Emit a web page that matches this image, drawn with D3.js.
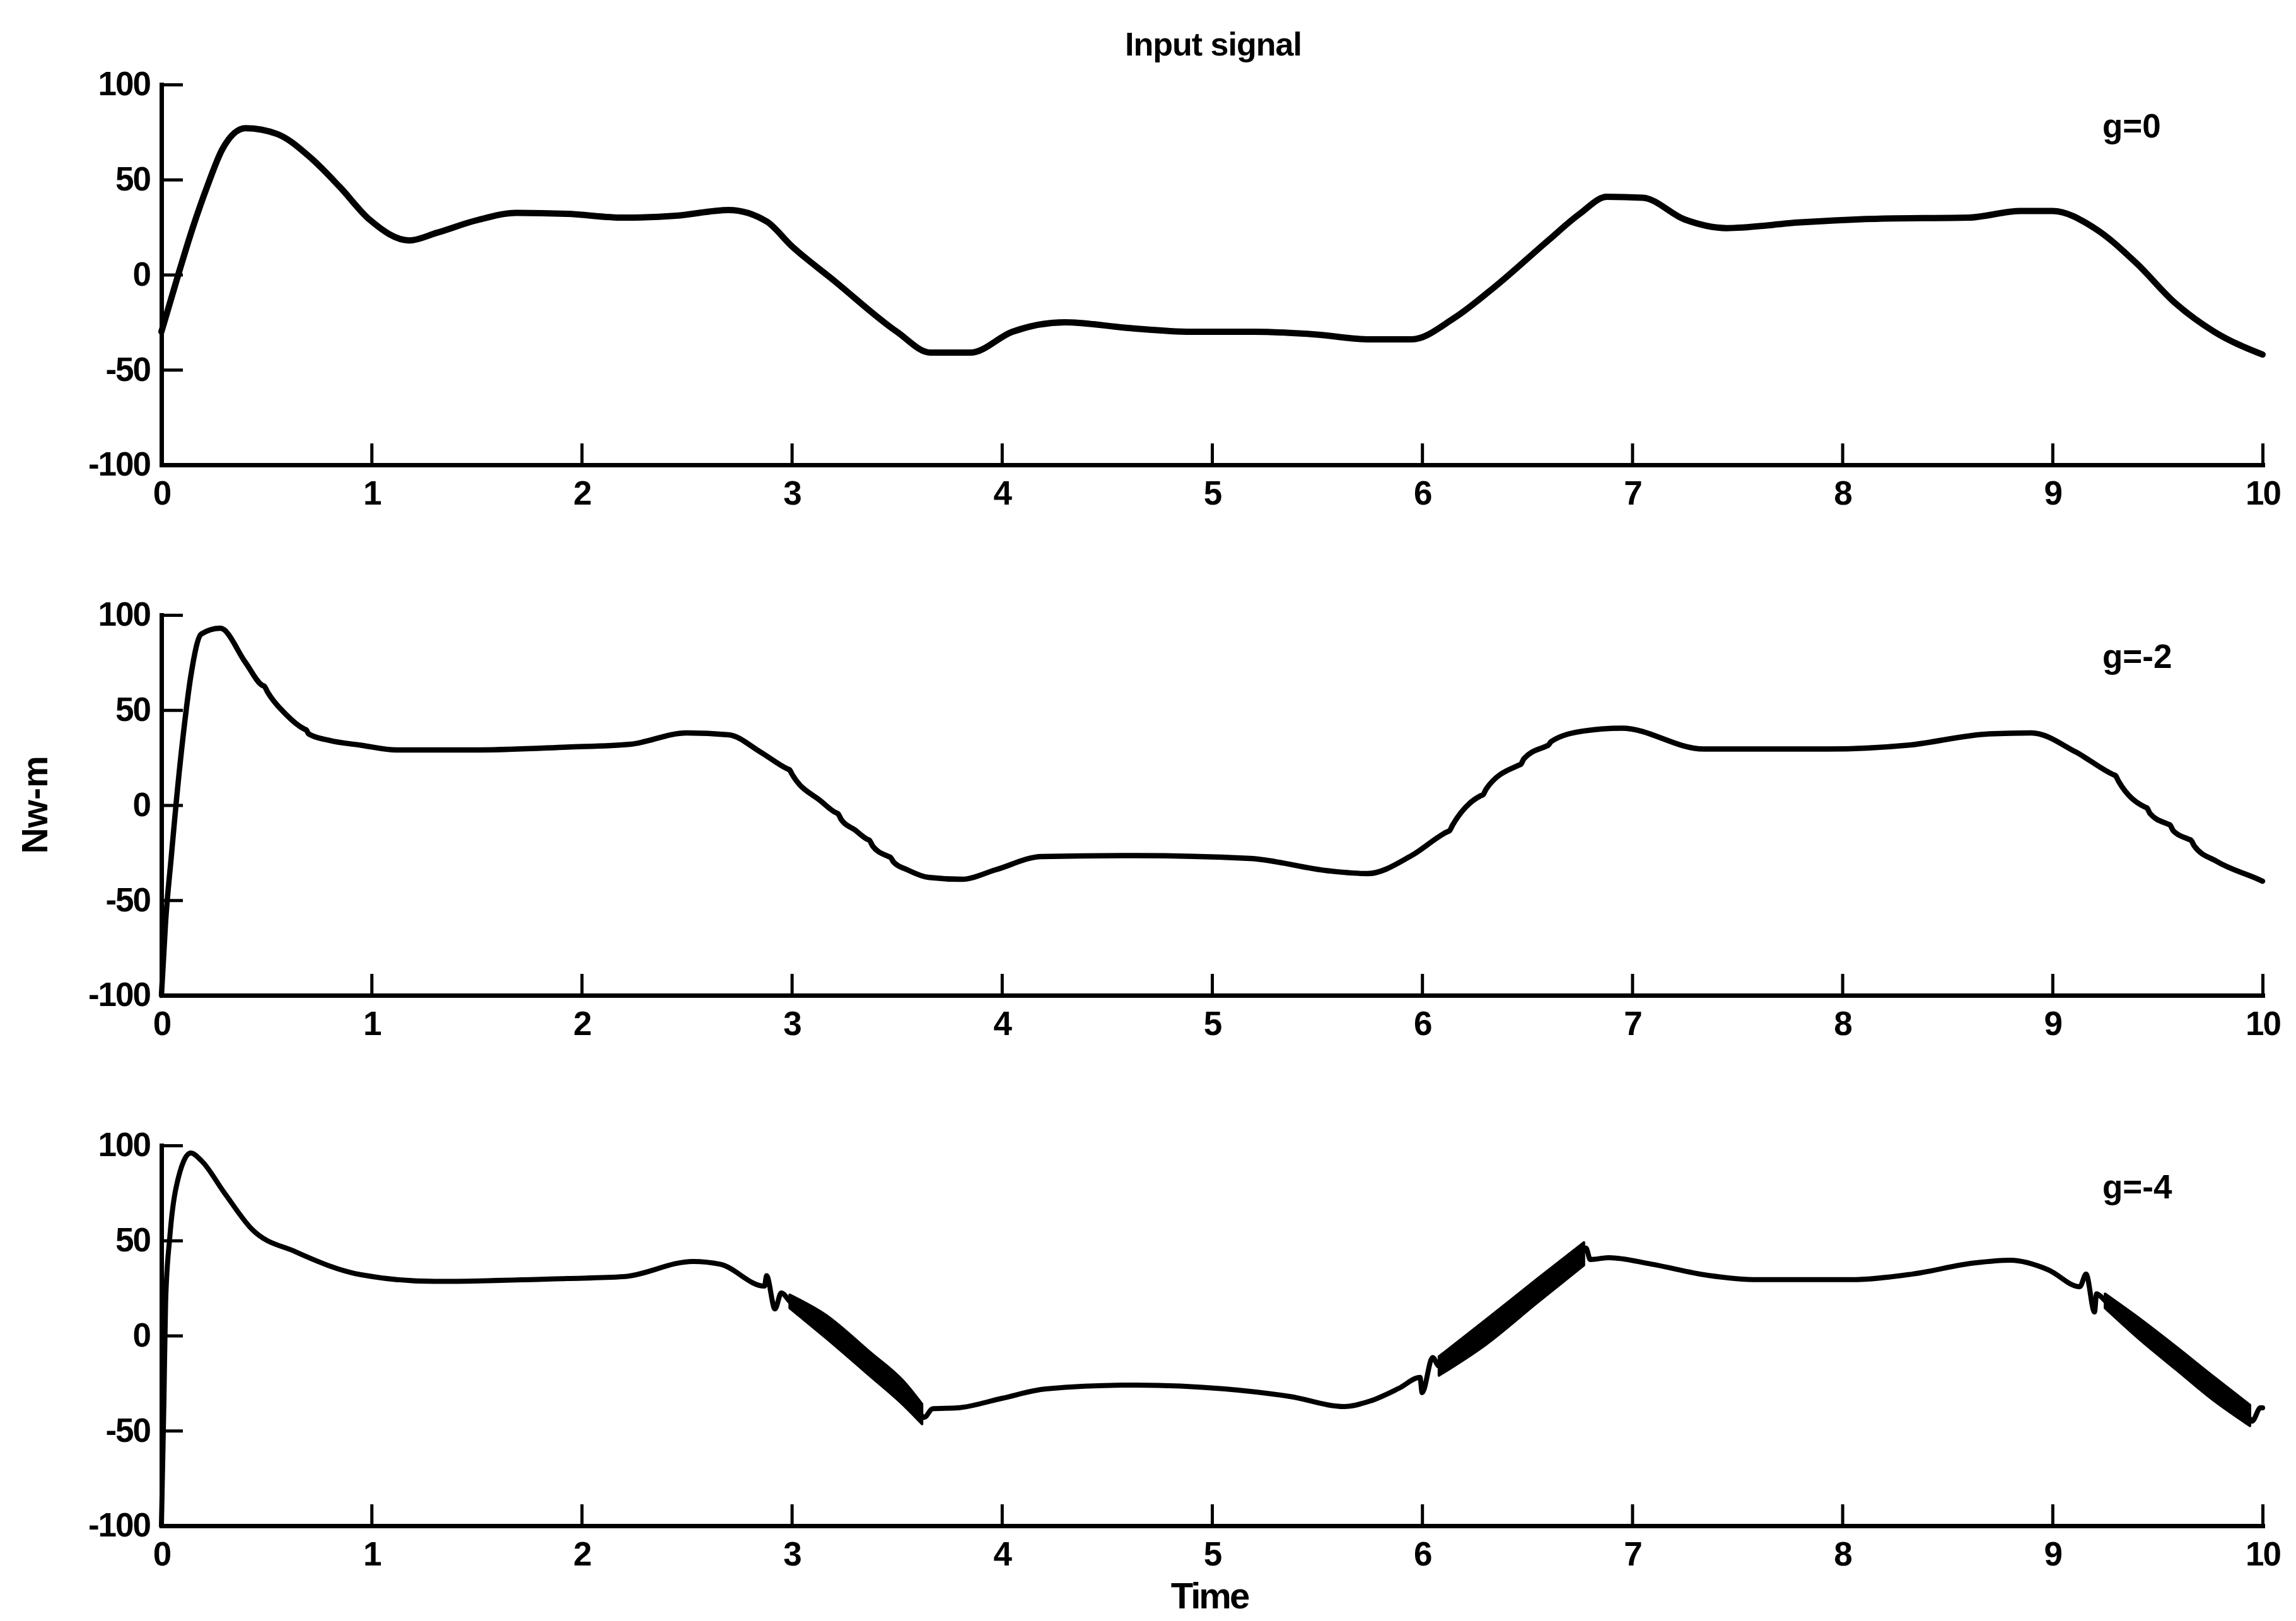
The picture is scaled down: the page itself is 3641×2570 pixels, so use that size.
<!DOCTYPE html>
<html><head><meta charset="utf-8">
<script src="https://cdn.jsdelivr.net/npm/d3@7"></script>
<style>
html,body{margin:0;padding:0;background:#fff;}
text{font-family:"Liberation Sans",Arial,Helvetica,sans-serif;font-weight:bold;fill:#000;}
</style></head><body>
<svg id="chart" width="3641" height="2570"></svg>
<script>
// ---------------- data ----------------
const xTicks = [0,1,2,3,4,5,6,7,8,9,10];
const yTicks = [-100,-50,0,50,100];
const titleText = "Input signal";
const xLabel = "Time";
const yLabel = "Nw-m";
const panelLabels = ["g=0", "g=-2", "g=-4"];

// g = 0 : [time, Nw-m]
const seriesG0 = [
 [0,-30],[0.08,0],[0.15,25],[0.22,47],[0.29,66],[0.40,77],[0.55,74],[0.71,61.5],[0.85,46],[0.99,29],
 [1.18,18],[1.31,22],[1.50,28.6],[1.69,32.5],[1.93,32],[2.2,30],[2.45,31],[2.7,34],
 [2.88,28],[3.0,15],[3.2,-3],[3.5,-30],[3.66,-41],[3.85,-41],[4.05,-30],[4.3,-25],
 [4.6,-28],[4.9,-30],[5.2,-30],[5.5,-31.5],[5.75,-34],[5.95,-34],[6.15,-23],[6.35,-6],
 [6.6,18],[6.75,32],[6.88,41],[7.05,40.5],[7.25,29],[7.45,24.5],[7.8,27.5],[8.2,29.5],
 [8.6,30],[8.85,33.5],[9.0,33.5],[9.2,24.5],[9.4,6],[9.58,-14.5],[9.77,-30],[10,-42]
];

// g = -2
const seriesG2 = [
 [0,-100],[0.02,-61],[0.047,-27],[0.07,1],[0.107,40],[0.14,68],[0.19,90],[0.28,93],
 [0.40,75],[0.48,63],[0.49,62.5],[0.505,59.5],[0.59,48],[0.68,40],[0.69,39.5],[0.70,37.5],
 [0.80,34],[0.95,31.5],[1.12,29],[1.5,29],[1.93,30.5],[2.23,32],[2.50,38],[2.70,37],
 [2.85,28],[2.98,19],[2.99,18.5],[3.0,16.5],[3.14,2],[3.21,-4],[3.22,-4.5],[3.235,-7.5],
 [3.30,-13],[3.36,-18],[3.37,-18.5],[3.385,-21.5],[3.46,-27],[3.47,-27.5],[3.485,-30],
 [3.55,-34],[3.65,-38],[3.81,-39],[3.97,-34],[4.19,-27],[4.64,-26.5],[5.18,-28],
 [5.55,-34.5],[5.74,-36],[5.95,-26.5],[6.12,-14],[6.13,-13.5],[6.145,-10.5],[6.28,5],
 [6.29,5.5],[6.305,8.5],[6.46,21],[6.47,21.5],[6.485,24.5],[6.59,31],[6.60,31.5],[6.615,33.5],
 [6.77,39],[6.95,40.5],[7.34,29.5],[7.93,29.5],[8.31,31.5],[8.70,37.5],[8.90,38],
 [9.11,28],[9.29,16],[9.30,15.5],[9.315,12.5],[9.44,-1],[9.45,-1.5],[9.465,-4.5],[9.55,-10],
 [9.56,-10.5],[9.575,-13.5],[9.65,-18],[9.66,-18.5],[9.675,-21.5],[9.78,-29.5],[9.98,-39],[10,-40]
];

// g = -4
const seriesG4 = [
 [0,-100],[0.012,-34],[0.02,18],[0.04,52],[0.07,78],[0.14,96],[0.19,92],[0.30,75],
 [0.43,56],[0.64,44],[0.95,32],[1.30,28.5],[1.93,30],[2.2,31],[2.53,39],[2.66,37.5],
 [2.87,26],[2.88,31.5],[2.92,14],[2.95,22.5],[2.99,18],[3.16,5],[3.37,-14.5],[3.54,-31],
 [3.61,-41],[3.63,-43],[3.67,-38.5],[3.79,-38],[4.0,-33],[4.21,-28],[4.64,-26],[5.06,-28],
 [5.37,-32],[5.63,-37.3],[5.75,-34.5],[5.89,-27.7],[5.99,-22],[6.0,-30],[6.05,-11.5],
 [6.08,-16],[6.42,11],[6.76,44],[6.78,46],[6.80,40],[6.89,41],[7.09,37.6],[7.36,31.7],
 [7.60,29.4],[8.04,29.4],[8.33,32.3],[8.63,38.2],[8.80,39.6],[8.98,34.6],[9.13,25.7],
 [9.16,32.3],[9.20,12.4],[9.21,22],[9.25,18.4],[9.59,-12],[9.93,-42.3],[9.95,-45],[9.99,-38],[10,-38]
];

// g = -4 chattering bands : [time, lower edge, upper edge]
const bandG4a = [[2.99,14.5,21.5],[3.16,-1,11],[3.37,-21,-8.5],[3.54,-37.5,-25],[3.62,-46.5,-36]];
const bandG4b = [[6.08,-21,-11],[6.30,-5,8],[6.55,17.5,30],[6.77,37,49]];
const bandG4c = [[9.25,14.5,22],[9.42,-2.5,8.5],[9.59,-18,-6],[9.76,-33.5,-21],[9.94,-47.5,-36.5]];

// ---------------- layout ----------------
const svg = d3.select("#chart");
svg.append("rect").attr("width",3641).attr("height",2570).attr("fill","#fff");

const x = d3.scaleLinear().domain([0,10]).range([256,3588]);
const panelTops = [134, 975, 1816];
const panelH = 603;
const panels = [
  {data: seriesG0, label: panelLabels[0], width: 10, curve: d3.curveMonotoneX, bands: []},
  {data: seriesG2, label: panelLabels[1], width: 8.5, curve: d3.curveMonotoneX, bands: []},
  {data: seriesG4, label: panelLabels[2], width: 8, curve: d3.curveMonotoneX, bands: [bandG4a, bandG4b, bandG4c]}
];

const fmtY = d => d < 0 ? "-" + Math.abs(d) : String(d);

panels.forEach((p, i) => {
  const top = panelTops[i];
  const y = d3.scaleLinear().domain([-100,100]).range([top + panelH, top]);
  const g = svg.append("g");

  // bands
  p.bands.forEach(b => {
    g.append("path").datum(b)
      .attr("d", d3.area().x(d => x(d[0])).y0(d => y(d[1])).y1(d => y(d[2])).curve(d3.curveMonotoneX))
      .attr("fill", "#000").attr("stroke", "#000").attr("stroke-width", 4).attr("stroke-linejoin", "round");
  });

  // line
  g.append("path").datum(p.data)
    .attr("d", d3.line().x(d => x(d[0])).y(d => y(d[1])).curve(p.curve))
    .attr("fill", "none").attr("stroke", "#000")
    .attr("stroke-width", p.width).attr("stroke-linejoin", "round").attr("stroke-linecap", "round");

  // axes
  const ya = g.append("g").attr("transform", `translate(${x(0)},0)`)
    .call(d3.axisLeft(y).tickValues(yTicks).tickFormat(fmtY).tickSizeInner(-34).tickSizeOuter(0).tickPadding(18));
  const xa = g.append("g").attr("transform", `translate(0,${top + panelH})`)
    .call(d3.axisBottom(x).tickValues(xTicks).tickFormat(d3.format("d")).tickSizeInner(-34).tickSizeOuter(0).tickPadding(25));

  [ya, xa].forEach(a => {
    a.select(".domain").attr("stroke", "#000").attr("stroke-width", 7).attr("stroke-linecap", "square");
    a.selectAll(".tick line").attr("stroke", "#000").attr("stroke-width", 5);
    a.selectAll(".tick text").attr("font-size", 53).attr("letter-spacing", -2)
      .style("font-family", '"Liberation Sans",Arial,sans-serif').style("font-weight", "bold").attr("fill", "#000");
  });

  // panel label
  g.append("text").attr("x", 3334).attr("y", top + 84)
    .attr("font-size", 53).attr("text-anchor", "start").text(p.label);
});

// title and axis titles
svg.append("text").attr("x", 1924).attr("y", 88).attr("text-anchor", "middle")
  .attr("font-size", 52).attr("letter-spacing", -1).text(titleText);
svg.append("text").attr("x", 1918).attr("y", 2550).attr("text-anchor", "middle")
  .attr("font-size", 58).attr("letter-spacing", -3).text(xLabel);
svg.append("text").attr("transform", "translate(75,1276) rotate(-90)").attr("text-anchor", "middle")
  .attr("font-size", 57).text(yLabel);
</script>
</body></html>
